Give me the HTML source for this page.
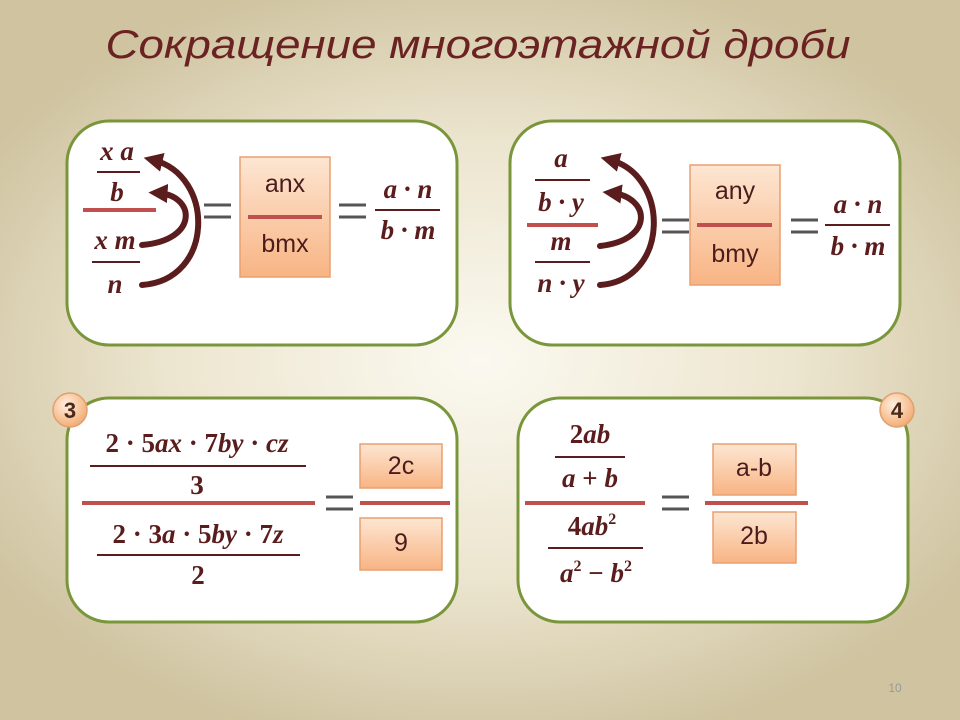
<!DOCTYPE html>
<html><head><meta charset="utf-8"><style>
html,body{margin:0;padding:0;width:960px;height:720px;overflow:hidden}
body{background:radial-gradient(ellipse 60% 55% at 50% 50%,#fbf9f0 0%,#ece5cf 55%,#cfc3a0 100%)}
svg{position:absolute;left:0;top:0}
.m{font-family:"Liberation Serif",serif;font-weight:bold;font-style:italic;font-size:27px;fill:#5a1c1c;text-anchor:middle}
.m tspan.u{font-style:normal}
.h{font-family:"Liberation Sans",sans-serif;font-size:25px;fill:#4a1c1c;text-anchor:middle}
.n{font-family:"Liberation Sans",sans-serif;font-weight:bold;font-size:22px;fill:#4a2a1a;text-anchor:middle}
</style></head><body>
<svg width="960" height="720" viewBox="0 0 960 720">
<defs>
<linearGradient id="og" x1="0" y1="0" x2="0" y2="1"><stop offset="0" stop-color="#fde6d2"/><stop offset="1" stop-color="#f8b484"/></linearGradient>
<radialGradient id="cg" cx="0.4" cy="0.35" r="0.7"><stop offset="0" stop-color="#fff0e0"/><stop offset="1" stop-color="#f2a86e"/></radialGradient>
<marker id="ah" viewBox="0 0 10 10" refX="5" refY="5" markerWidth="3.2" markerHeight="3.2" orient="auto"><path d="M0,0 L10,5 L0,10 z" fill="#5a1c1c"/></marker>
</defs>
<text x="478" y="58" font-family="Liberation Sans,sans-serif" font-style="italic" font-size="40" fill="#6b2222" text-anchor="middle" textLength="745" lengthAdjust="spacingAndGlyphs">Сокращение многоэтажной дроби</text>

<g fill="#fff" stroke="#7a963a" stroke-width="3">
<rect x="67" y="121" width="390" height="224" rx="42"/>
<rect x="510" y="121" width="390" height="224" rx="42"/>
<rect x="67" y="398" width="390" height="224" rx="42"/>
<rect x="518" y="398" width="390" height="224" rx="42"/>
</g>

<g stroke="#5a1c1c" stroke-width="2"><line x1="97" y1="172" x2="140" y2="172"/><line x1="92" y1="262" x2="140" y2="262"/><line x1="375" y1="210" x2="440" y2="210"/>
<line x1="535" y1="180" x2="590" y2="180"/><line x1="535" y1="262" x2="590" y2="262"/><line x1="825" y1="225" x2="890" y2="225"/>
<line x1="90" y1="466" x2="306" y2="466"/><line x1="97" y1="555" x2="300" y2="555"/>
<line x1="555" y1="457" x2="625" y2="457"/><line x1="548" y1="548" x2="643" y2="548"/></g>

<g stroke="#555" stroke-width="3"><path d="M204 205h27M204 217h27M339 205h27M339 217h27M662 220h27M662 232h27M791 220h27M791 232h27M326 497h27M326 509h27M662 497h27M662 509h27"/></g>

<g fill="url(#og)" stroke="#e8a070" stroke-width="1.5">
<rect x="240" y="157" width="90" height="120"/><rect x="690" y="165" width="90" height="120"/>
<rect x="360" y="444" width="82" height="44"/><rect x="360" y="518" width="82" height="52"/>
<rect x="713" y="444" width="83" height="51"/><rect x="713" y="512" width="83" height="51"/>
</g>

<g stroke="#c0504d" stroke-width="4"><line x1="83" y1="210" x2="156" y2="210"/><line x1="248" y1="217" x2="322" y2="217"/>
<line x1="527" y1="225" x2="598" y2="225"/><line x1="697" y1="225" x2="772" y2="225"/>
<line x1="82" y1="503" x2="315" y2="503"/><line x1="360" y1="503" x2="450" y2="503"/>
<line x1="525" y1="503" x2="645" y2="503"/><line x1="705" y1="503" x2="808" y2="503"/></g>

<g fill="none" stroke="#5a1c1c" stroke-width="6" stroke-linecap="round" marker-end="url(#ah)">
<path d="M142 285 C215 280 215 175 153 160"/>
<path d="M142 245 C200 240 195 195 158 193"/>
<path d="M600 285 C670 280 670 175 610 160"/>
<path d="M600 246 C655 240 650 197 612 193"/>
</g>

<text class="m" x="117" y="160">x a</text><text class="m" x="117" y="201">b</text>
<text class="m" x="115" y="249">x m</text><text class="m" x="115" y="293">n</text>
<text class="h" x="285" y="192">anx</text><text class="h" x="285" y="252">bmx</text>
<text class="m" x="408" y="198">a · n</text><text class="m" x="408" y="239">b · m</text>

<text class="m" x="561" y="167">a</text><text class="m" x="561" y="211">b · y</text>
<text class="m" x="561" y="250">m</text><text class="m" x="561" y="292">n · y</text>
<text class="h" x="735" y="199">any</text><text class="h" x="735" y="262">bmy</text>
<text class="m" x="858" y="213">a · n</text><text class="m" x="858" y="255">b · m</text>

<text class="m" x="197" y="452"><tspan class="u">2 · 5</tspan>ax <tspan class="u">· 7</tspan>by <tspan class="u">·</tspan> cz</text><text class="m" x="197" y="494"><tspan class="u">3</tspan></text>
<text class="m" x="198" y="543"><tspan class="u">2 · 3</tspan>a <tspan class="u">· 5</tspan>by <tspan class="u">· 7</tspan>z</text><text class="m" x="198" y="584"><tspan class="u">2</tspan></text>
<text class="h" x="401" y="474">2c</text><text class="h" x="401" y="551">9</text>

<text class="m" x="590" y="443"><tspan class="u">2</tspan>ab</text><text class="m" x="590" y="487">a <tspan class="u">+</tspan> b</text>
<text class="m" x="592" y="535"><tspan class="u">4</tspan>ab<tspan class="u" font-size="16" dy="-11">2</tspan></text>
<text class="m" x="596" y="582">a<tspan class="u" font-size="16" dy="-11">2</tspan><tspan class="u" dy="11"> − </tspan>b<tspan class="u" font-size="16" dy="-11">2</tspan></text>
<text class="h" x="754" y="476">a-b</text><text class="h" x="754" y="544">2b</text>

<circle cx="70" cy="410" r="17" fill="url(#cg)" stroke="#e0a070" stroke-width="1.5"/><text class="n" x="70" y="418">3</text>
<circle cx="897" cy="410" r="17" fill="url(#cg)" stroke="#e0a070" stroke-width="1.5"/><text class="n" x="897" y="418">4</text>

<text x="895" y="692" font-family="Liberation Sans,sans-serif" font-size="12" fill="#999" text-anchor="middle">10</text>
</svg>
</body></html>
